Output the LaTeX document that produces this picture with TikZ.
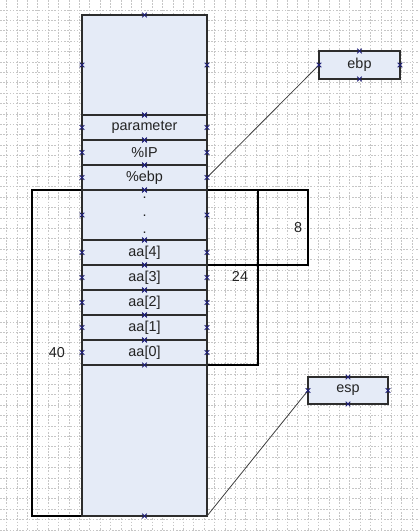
\documentclass[tikz,border=0pt]{standalone}
\usepackage{fontspec}
\setmainfont{Liberation Sans}
\definecolor{cellfill}{RGB}{229,235,247}
\definecolor{edge}{RGB}{45,45,45}
\definecolor{marknavy}{RGB}{30,30,120}
\definecolor{txt}{RGB}{35,35,35}
\begin{document}
\begin{tikzpicture}[x=0.75pt,y=-0.75pt,
  gridline/.style={gray!45,line width=0.5pt,dash pattern=on 1.2pt off 1.2pt},
  colbox/.style={draw=edge,fill=cellfill,line width=1.1pt,minimum width=93.75pt,inner sep=0pt,outer sep=0pt},
  cell/.style={colbox,minimum height=18.75pt,text=txt,font=\fontsize{10.8}{12}\selectfont},
  bracketbox/.style={draw=black,line width=1.1pt,inner sep=0pt,outer sep=0pt},
  regbox/.style={draw=edge,fill=cellfill,line width=1.1pt,inner sep=0pt,outer sep=0pt,text=txt,font=\fontsize{10.8}{12}\selectfont},
  lbl/.style={text=txt,font=\fontsize{10.8}{12}\selectfont,inner sep=0pt},
  conn/.style={draw=black!75,line width=0.6pt},
  xmark/.style={draw=marknavy,line width=0.7pt}]
\useasboundingbox (0,0) rectangle (418,531);
\fill[white] (0,0) rectangle (418,531);
% background grid
\foreach \i in {0,...,39} \draw[gridline] (6.5+\i*10.4,0) -- (6.5+\i*10.4,531);
\foreach \j in {0,...,50} \draw[gridline] (0,10+\j*10.4) -- (418,10+\j*10.4);
% bracket boxes
\node[bracketbox,minimum width=37.5pt,minimum height=244.5pt] (b40) at (57,353) {};
\node[bracketbox,minimum width=38.25pt,minimum height=131.25pt] (b24) at (232.5,277.5) {};
\node[bracketbox,minimum width=75.75pt,minimum height=56.25pt] (b8) at (257.5,227.5) {};
% column
\node[colbox,minimum height=75pt] (top) at (144.5,65) {};
\node[cell] (param) at (144.5,127.5) {parameter};
\node[cell] (ip) at (144.5,152.5) {\%IP};
\node[cell] (ebpc) at (144.5,177.5) {\%ebp};
\node[colbox,minimum height=37.5pt] (dots) at (144.5,215) {};
\node[lbl] (d1) at (144.5,198) {.};
\node[lbl] (d2) at (144.5,216) {.};
\node[lbl] (d3) at (144.5,233) {.};
\node[cell] (a4) at (144.5,252.5) {aa[4]};
\node[cell] (a3) at (144.5,277.5) {aa[3]};
\node[cell] (a2) at (144.5,302.5) {aa[2]};
\node[cell] (a1) at (144.5,327.5) {aa[1]};
\node[cell] (a0) at (144.5,352.5) {aa[0]};
\node[colbox,minimum height=113.25pt] (bot) at (144.5,440.5) {};
% labels
\node[lbl] (l8) at (298,228) {8};
\node[lbl] (l24) at (240,276) {24};
\node[lbl] (l40) at (57,353) {40};
% register boxes
\node[regbox,minimum width=60.75pt,minimum height=21pt] (ebpbox) at (359.5,65) {ebp};
\node[regbox,minimum width=60pt,minimum height=20.25pt] (espbox) at (348,390.5) {esp};
% connectors
\draw[conn] (ebpbox.west) -- (ebpc.east);
\draw[conn] (espbox.west) -- (bot.south east);
% connection markers
\foreach \n in {top,param,ip,ebpc,dots,a4,a3,a2,a1,a0,ebpbox,espbox}{
  \foreach \a in {north,south,west,east}{
    \draw[xmark] ([shift={(-2.3,-2.3)}]\n.\a) -- ([shift={(2.3,2.3)}]\n.\a)
                 ([shift={(-2.3,2.3)}]\n.\a) -- ([shift={(2.3,-2.3)}]\n.\a);
  }
}
\draw[xmark] ([shift={(-2.3,-2.3)}]bot.south) -- ([shift={(2.3,2.3)}]bot.south)
             ([shift={(-2.3,2.3)}]bot.south) -- ([shift={(2.3,-2.3)}]bot.south);
\end{tikzpicture}
\end{document}
